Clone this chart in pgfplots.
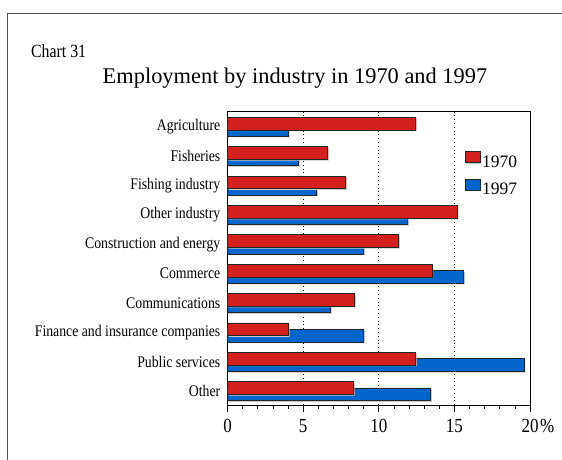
\documentclass[border=0pt]{standalone}
\usepackage{fontspec}
\setmainfont{Liberation Serif}
\newfontfamily\cnd{Liberation Serif}[FakeStretch=0.85]
\usepackage{pgfplots}
\usepackage{pgfplotstable}
\pgfplotsset{compat=1.18}
\definecolor{cred}{RGB}{212,32,28}
\definecolor{cblue}{RGB}{0,102,204}
\definecolor{cframe}{RGB}{80,80,80}

\pgfplotstableread{
y v
9 12.44
8 6.62
7 7.81
6 15.19
5 11.32
4 13.52
3 8.41
2 4.02
1 12.42
0 8.32
}\redtab
\pgfplotstableread{
y v
9 4.02
8 4.71
7 5.90
6 11.91
5 9.00
4 15.62
3 6.80
2 9.00
1 19.62
0 13.43
}\bluetab

\begin{document}
\begin{tikzpicture}
\useasboundingbox (0,0) rectangle (562pt,460pt);
\draw[cframe, line width=1.2pt] (7.3pt,0) -- (7.3pt,446.5pt) -- (562pt,446.5pt);
\node[anchor=base west, inner sep=0pt, font=\cnd\fontsize{18.6}{18.6}\selectfont] at (31pt,402.3pt) {Chart 31};
\node[anchor=base, inner sep=0pt, font=\fontsize{22.4}{22.4}\selectfont] at (295pt,376pt) {Employment by industry in 1970 and 1997};
\begin{axis}[
  at={(227.5pt,55pt)}, anchor=south west, scale only axis,
  width=302.5pt, height=293.3pt,
  xmin=0, xmax=20, ymin=-0.47, ymax=9.514,
  xbar, bar width=12.7pt,
  xtick={0,5,...,20}, minor x tick num=4,
  ytick={0,...,9},
  yticklabels={Other, Public services, Finance and insurance companies, Communications, Commerce, Construction and energy, Other industry, Fishing industry, Fisheries, Agriculture},
  tick align=outside, major tick length=7pt, minor tick length=4pt,
  xtick pos=lower, ytick pos=left,
  y tick style={draw=none},
  x tick style={black, line width=0.7pt},
  xmajorgrids, grid style={black, line width=0.7pt, dash pattern=on 0.8pt off 3pt},
  axis line style={black, line width=0.9pt},
  /pgf/number format/assume math mode=true,
  x tick label style={font=\cnd\fontsize{20}{20}\selectfont, anchor=base, yshift=-21pt, inner sep=0pt},
  y tick label style={font=\cnd\fontsize{16.2}{16.2}\selectfont, inner sep=0pt, anchor=east},
  xlabel={\%},
  xlabel style={at={(rel axis cs:1,0)}, anchor=base west, xshift=10pt, yshift=-28pt, inner sep=0pt, font=\cnd\fontsize{20}{20}\selectfont},
  reverse legend,
  legend cell align=left,
  legend style={draw=none, fill=none, at={(rel axis cs:0.783,0.865)}, anchor=north west, inner sep=0pt, row sep=9.5pt, column sep=1.5pt, font=\fontsize{17.5}{17.5}\selectfont, nodes={inner sep=0.5pt}},
]
\addplot[fill=cblue, draw=black!85, line width=0.6pt, bar shift=-3.15pt,
  preaction={fill=black!22, draw=none, transform canvas={xshift=1.2pt, yshift=-1.2pt}},
  legend image code/.code={\draw[fill=cblue, draw=black!85, line width=0.6pt] (0pt,-0.5pt) rectangle (15pt,10.5pt);}]
  table[x=v, y=y] {\bluetab};
\addlegendentry{1997}
\addplot[fill=cred, draw=black!85, line width=0.6pt, bar shift=3.15pt,
  preaction={fill=black!22, draw=none, transform canvas={xshift=1.2pt, yshift=-1.2pt}},
  legend image code/.code={\draw[fill=cred, draw=black!85, line width=0.6pt] (0pt,-0.5pt) rectangle (15pt,10.5pt);}]
  table[x=v, y=y] {\redtab};
\addlegendentry{1970}
\end{axis}
\end{tikzpicture}
\end{document}
